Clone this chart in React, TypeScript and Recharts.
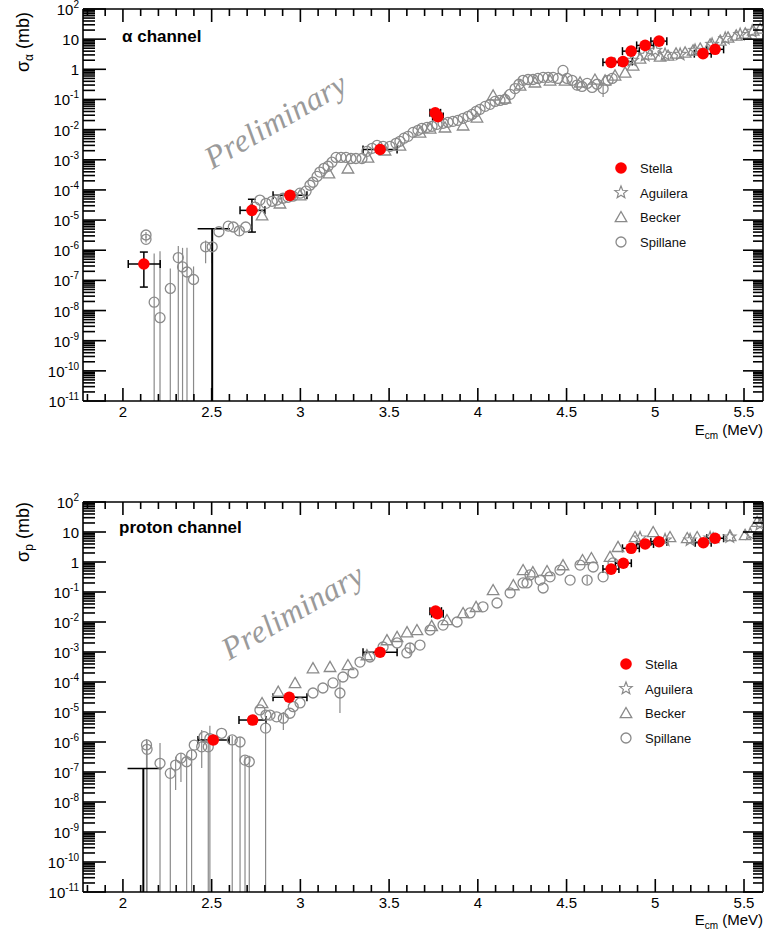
import React from 'react';
import { ScatterChart, Scatter, XAxis, YAxis, ErrorBar, Legend } from 'recharts';

const FONT = '"Liberation Sans", Arial, Helvetica, sans-serif';
const SERIF = '"Liberation Serif", "Times New Roman", serif';
const GRAY = '#8a8a8a';
const RED = '#ff0000';

// ---------- axes ----------
const xTicks = [1.8, 1.9, 2, 2.1, 2.2, 2.3, 2.4, 2.5, 2.6, 2.7, 2.8, 2.9, 3, 3.1, 3.2, 3.3, 3.4, 3.5, 3.6, 3.7, 3.8, 3.9, 4, 4.1, 4.2, 4.3, 4.4, 4.5, 4.6, 4.7, 4.8, 4.9, 5, 5.1, 5.2, 5.3, 5.4, 5.5];
const xDomain = [1.775, 5.607];
const decades = [-11, -10, -9, -8, -7, -6, -5, -4, -3, -2, -1, 0, 1];
const mantissas = [1, 2, 3, 4, 5, 6, 7, 8, 9];
const yTicks = [...decades.flatMap((d) => mantissas.map((m) => m * Math.pow(10, d))), 100];
const yDomain = [1e-11, 100];
const legendNames = ['Stella', 'Aguilera', 'Becker', 'Spillane'];

// ---------- alpha channel data ----------
// Stella: [E, sigma, E low, E high, sigma low, sigma high]
const stellaAlpha = [
  [2.118, 3.5e-7, 2.03, 2.21, 6.0e-8, 8.7e-7],
  [2.727, 2.1e-5, 2.66, 2.8, 4.0e-6, 4.9e-5],
  [2.941, 6.6e-5, 2.846, 3.037, 5.6e-5, 7.8e-5],
  [3.449, 2.2e-3, 3.353, 3.545, 1.9e-3, 2.6e-3],
  [3.76, 3.6e-2, 3.73, 3.79, 3.2e-2, 4.1e-2],
  [3.775, 2.7e-2, 3.745, 3.805, 2.4e-2, 3.0e-2],
  [4.751, 1.7, 4.705, 4.795, 1.5, 1.9],
  [4.818, 1.8, 4.77, 4.87, 1.6, 2.0],
  [4.864, 4.0, 4.815, 4.91, 3.6, 4.4],
  [4.943, 6.2, 4.895, 4.99, 5.6, 6.8],
  [5.021, 8.6, 4.975, 5.065, 7.8, 9.4],
  [5.269, 3.3, 5.22, 5.315, 3.0, 3.6],
  [5.337, 4.6, 5.29, 5.385, 4.2, 5.0],
];
const stellaAlphaLimit = [[2.503, 5.2e-6, 2.421, 2.603, 1e-11, 5.2e-6]];

// Spillane: [E, sigma, sigma low, sigma high]
const spillaneAlpha = [
  [2.13, 3.2e-6, 2.6e-6, 4.0e-6], [2.13, 2.3e-6, 1.8e-6, 2.9e-6],
  [2.176, 1.9e-8, 1e-11, 7.8e-7], [2.209, 5.8e-9, 1e-11, 9.3e-7],
  [2.267, 5.4e-8, 1e-11, 2.5e-7], [2.312, 5.7e-7, 1e-11, 1.38e-6],
  [2.336, 2.8e-7, 1e-11, 1.2e-6], [2.361, 1.9e-7, 1e-11, 1.2e-6],
  [2.398, 1.07e-7, 1e-11, 2.9e-7], [2.466, 1.3e-6, 3.7e-7, 2.1e-6],
  [2.503, 1.3e-6, 3.7e-7, 2.1e-6], [2.541, 4.1e-6], [2.594, 6.3e-6],
  [2.622, 5.9e-6], [2.656, 4.4e-6, 3.0e-6, 6.0e-6], [2.692, 5.9e-6],
  [2.744, 2.7e-5], [2.772, 4.6e-5], [2.806, 3.6e-5], [2.84, 4.2e-5],
  [2.868, 4.6e-5], [2.902, 5.3e-5], [2.93, 5.7e-5], [2.958, 6.2e-5],
  [2.998, 7.8e-5], [3.032, 9.1e-5], [3.054, 1.43e-4], [3.071, 1.8e-4],
  [3.094, 2.8e-4], [3.11, 3.9e-4], [3.133, 5.2e-4], [3.156, 6.1e-4],
  [3.178, 8.3e-4], [3.201, 1.2e-3], [3.229, 1.2e-3], [3.257, 1.2e-3],
  [3.285, 1.1e-3], [3.313, 1.1e-3], [3.347, 1.1e-3], [3.375, 1.9e-3],
  [3.404, 2.4e-3], [3.432, 3.0e-3], [3.466, 2.8e-3], [3.505, 2.8e-3],
  [3.539, 3.5e-3], [3.561, 4.1e-3], [3.584, 5.2e-3], [3.607, 6.0e-3],
  [3.635, 8.1e-3], [3.663, 9.5e-3], [3.685, 1.1e-2], [3.714, 1.19e-2],
  [3.742, 1.29e-2], [3.77, 1.5e-2], [3.804, 1.62e-2], [3.832, 1.75e-2],
  [3.86, 1.88e-2], [3.888, 2.03e-2], [3.917, 2.37e-2], [3.945, 2.76e-2],
  [3.967, 3.2e-2], [3.99, 4.0e-2], [4.012, 4.7e-2], [4.041, 5.9e-2],
  [4.069, 6.9e-2], [4.097, 8.6e-2], [4.125, 9.3e-2], [4.153, 0.1],
  [4.182, 0.148], [4.21, 0.23], [4.232, 0.32], [4.255, 0.43],
  [4.283, 0.46], [4.311, 0.46], [4.339, 0.5], [4.368, 0.54],
  [4.396, 0.54], [4.424, 0.54], [4.452, 0.5], [4.48, 0.92],
  [4.503, 0.5], [4.531, 0.43], [4.559, 0.3, 0.2, 0.4], [4.587, 0.27],
  [4.616, 0.34], [4.644, 0.25], [4.672, 0.32], [4.706, 0.23, 0.12, 0.38],
  [4.734, 0.43], [4.757, 0.5],
];

// Becker: [E, sigma]
const beckerAlpha = [
  [2.784, 1.45e-5], [2.885, 3.6e-5], [2.998, 6.7e-5], [3.161, 3.6e-4],
  [3.268, 5.2e-4], [3.381, 1.2e-3], [3.477, 2.06e-3], [3.561, 3.0e-3],
  [3.674, 8.1e-3], [3.731, 1.1e-2], [3.815, 1.19e-2], [3.917, 1.39e-2],
  [3.995, 2.55e-2], [4.086, 0.137], [4.153, 0.109], [4.238, 0.29],
  [4.322, 0.37], [4.407, 0.43], [4.492, 0.43], [4.576, 0.37],
  [4.66, 0.46], [4.717, 0.43], [4.773, 0.63], [4.83, 0.79],
  [4.875, 1.35], [4.914, 2.3], [4.97, 3.11], [5.027, 2.67],
  [5.072, 2.88], [5.117, 3.36], [5.168, 3.63], [5.213, 4.23],
  [5.253, 4.92], [5.309, 6.68], [5.366, 9.06], [5.41, 11.4],
  [5.456, 13.3], [5.507, 15.5], [5.552, 19.4], [5.591, 22.6],
];

// Aguilera: [E, sigma]
const aguileraAlpha = [
  [4.869, 1.97], [4.943, 2.88], [5.0, 4.23], [5.055, 3.11], [5.14, 3.11],
  [5.224, 4.23], [5.32, 6.68], [5.394, 10.5], [5.478, 14.2], [5.546, 18],
];

// ---------- proton channel data ----------
const stellaProton = [
  [2.509, 1.17e-6, 2.423, 2.598, 9.0e-7, 1.5e-6],
  [2.731, 5.4e-6, 2.654, 2.806, 4.0e-6, 7.0e-6],
  [2.937, 3.1e-5, 2.846, 3.037, 2.7e-5, 3.5e-5],
  [3.449, 9.8e-4, 3.353, 3.545, 8.8e-4, 1.1e-3],
  [3.762, 2.3e-2, 3.73, 3.795, 2.1e-2, 2.5e-2],
  [3.772, 1.9e-2, 3.74, 3.805, 1.7e-2, 2.1e-2],
  [4.751, 0.58, 4.705, 4.795, 0.52, 0.64],
  [4.82, 0.91, 4.775, 4.865, 0.82, 1.0],
  [4.864, 2.86, 4.815, 4.91, 2.6, 3.1],
  [4.943, 4.0, 4.895, 4.99, 3.6, 4.4],
  [5.021, 4.75, 4.975, 5.065, 4.3, 5.2],
  [5.271, 4.4, 5.225, 5.315, 4.0, 4.8],
  [5.337, 6.2, 5.29, 5.385, 5.6, 6.8],
];
const stellaProtonLimit = [[2.115, 1.3e-7, 2.026, 2.218, 1e-11, 1.3e-7]];

const spillaneProton = [
  [2.133, 8.0e-7, 1e-11, 1.26e-6], [2.136, 5.7e-7, 1e-11, 1.1e-6],
  [2.209, 1.95e-7, 1e-11, 9.3e-7], [2.267, 9.0e-8, 1e-11, 1.4e-7],
  [2.297, 1.7e-7, 2.5e-8, 3.2e-7], [2.327, 2.9e-7, 4.6e-8, 4.3e-7],
  [2.359, 2.2e-7, 1e-11, 3.5e-7], [2.387, 3.7e-7, 1e-11, 5.5e-7],
  [2.402, 7.9e-7], [2.444, 6.9e-7, 1.35e-7, 2.5e-6], [2.457, 1.5e-6],
  [2.481, 6.9e-7, 1e-11, 1.5e-6], [2.49, 1.3e-6, 1e-11, 3.5e-6],
  [2.556, 1.95e-6], [2.616, 1.17e-6, 1e-11, 1.6e-6],
  [2.66, 1.0e-6, 1e-11, 1.4e-6], [2.688, 2.5e-7, 1e-11, 3.5e-7],
  [2.712, 2.2e-7, 1e-11, 3.5e-7], [2.804, 2.9e-6, 1e-11, 4.5e-6],
  [2.772, 1.17e-5], [2.806, 7.9e-6], [2.829, 7.9e-6], [2.866, 6.9e-6],
  [2.904, 6.2e-6, 2.5e-6, 1.0e-5], [2.941, 9.1e-6], [2.96, 1.5e-5],
  [2.998, 2.0e-5], [3.071, 4.3e-5], [3.127, 6.3e-5], [3.184, 9.3e-5],
  [3.223, 4.3e-5, 9.3e-6, 1.2e-4], [3.24, 1.47e-4], [3.297, 2.0e-4],
  [3.336, 4.6e-4], [3.392, 6.8e-4], [3.466, 1.47e-3], [3.545, 2.0e-3],
  [3.6, 9.3e-4], [3.618, 1.36e-3, 8.0e-4, 2.0e-3], [3.674, 1.7e-3],
  [3.731, 5.4e-3], [3.804, 7.9e-3], [3.883, 1.0e-2], [3.956, 2.0e-2],
  [4.029, 3.2e-2], [4.108, 4.3e-2], [4.182, 9.3e-2], [4.255, 0.2],
  [4.277, 0.2], [4.294, 0.37], [4.351, 0.25], [4.368, 0.136],
  [4.407, 0.32], [4.463, 0.54], [4.52, 0.25], [4.576, 0.79],
  [4.616, 0.25, 0.18, 0.34], [4.65, 0.68], [4.706, 0.32], [4.762, 0.93],
];

const beckerProton = [
  [2.784, 2.0e-5], [2.875, 4.8e-5], [2.97, 9.3e-5], [3.071, 2.9e-4],
  [3.167, 3.2e-4], [3.268, 3.7e-4], [3.375, 7.9e-4], [3.488, 2.5e-3],
  [3.545, 3.2e-3], [3.601, 4.6e-3], [3.657, 5.4e-3], [3.74, 7.4e-3],
  [3.826, 1.17e-2], [3.917, 2.0e-2], [3.99, 3.2e-2], [4.086, 0.117],
  [4.2, 0.17], [4.255, 0.54], [4.31, 0.46], [4.39, 0.5], [4.48, 0.79],
  [4.59, 1.17], [4.64, 1.36], [4.745, 1.5], [4.79, 3.2], [4.886, 6.8],
  [4.988, 10], [5.083, 6.8], [5.18, 6.3], [5.236, 6.8], [5.326, 6.3],
  [5.422, 7.4], [5.506, 8.0], [5.574, 22],
];

const aguileraProton = [
  [4.914, 6.3], [5.055, 5.4], [5.196, 5.4], [5.309, 6.3],
  [5.42, 6.8], [5.535, 8.6], [5.59, 18],
];

// ---------- helpers ----------
type Pt = { x: number; y: number; ex: number[]; ey: number[] };
const toPts = (rows: number[][]): Pt[] =>
  rows.map((r) => {
    const lo = r[2] ?? r[1];
    const hi = r[3] ?? r[1];
    return { x: r[0], y: r[1], ex: [0, 0], ey: [r[1] - lo, hi - r[1]] };
  });
const toStella = (rows: number[][]): Pt[] =>
  rows.map((r) => ({ x: r[0], y: r[1], ex: [r[0] - r[2], r[3] - r[0]], ey: [r[1] - r[4], r[5] - r[1]] }));

const isMajorX = (v: number) => Math.abs(v * 2 - Math.round(v * 2)) < 1e-6;
const isMajorY = (v: number) => Math.abs(Math.log10(v) - Math.round(Math.log10(v))) < 1e-6;
const fmtX = (v: number) => String(Math.round(v * 10) / 10);

const starPath = (cx: number, cy: number, R: number, r: number) => {
  let d = '';
  for (let i = 0; i < 10; i++) {
    const a = -Math.PI / 2 + (i * Math.PI) / 5;
    const rad = i % 2 === 0 ? R : r;
    d += (i === 0 ? 'M' : 'L') + (cx + rad * Math.cos(a)).toFixed(2) + ',' + (cy + rad * Math.sin(a)).toFixed(2);
  }
  return d + 'Z';
};
const triPath = (cx: number, cy: number, s: number) =>
  `M${cx},${cy - s}L${cx + s * 1.05},${cy + s * 0.85}L${cx - s * 1.05},${cy + s * 0.85}Z`;

const OpenCircle = (p: any) => <circle cx={p.cx} cy={p.cy} r={5} fill="none" stroke={GRAY} strokeWidth={1.3} />;
const OpenTriangle = (p: any) => <path d={triPath(p.cx, p.cy, 5.5)} fill="none" stroke={GRAY} strokeWidth={1.3} />;
const OpenStar = (p: any) => <path d={starPath(p.cx, p.cy, 6.5, 2.8)} fill="none" stroke={GRAY} strokeWidth={1.2} />;
const RedDot = (p: any) => <circle cx={p.cx} cy={p.cy} r={5.8} fill={RED} />;
const NoMark = () => <g />;

// ---------- ticks ----------
const BottomTick = (p: any) => {
  const v = p.payload.value;
  const major = isMajorX(v);
  return (
    <g>
      <line x1={p.x} y1={p.y} x2={p.x} y2={p.y - (major ? 13 : 7)} stroke="#000" strokeWidth={1.6} />
      {major && (
        <text x={p.x} y={p.y + 16} textAnchor="middle" fontSize={15} fontFamily={FONT} fill="#000">
          {fmtX(v)}
        </text>
      )}
    </g>
  );
};
const TopTick = (p: any) => {
  const major = isMajorX(p.payload.value);
  return <line x1={p.x} y1={p.y} x2={p.x} y2={p.y + (major ? 13 : 7)} stroke="#000" strokeWidth={1.6} />;
};
const LeftTick = (p: any) => {
  const v = p.payload.value;
  const major = isMajorY(v);
  const e = Math.round(Math.log10(v));
  return (
    <g>
      <line x1={p.x} y1={p.y} x2={p.x + (major ? 23 : 12)} y2={p.y} stroke="#000" strokeWidth={1.6} />
      {major && (
        <text x={p.x - 4} y={p.y + 6} textAnchor="end" fontSize={15} fontFamily={FONT} fill="#000">
          {e === 0 ? '1' : e === 1 ? '10' : (
            <>
              <tspan>10</tspan>
              <tspan dy={-7} fontSize={10}>{String(e)}</tspan>
            </>
          )}
        </text>
      )}
    </g>
  );
};
const RightTick = (p: any) => {
  const major = isMajorY(p.payload.value);
  return <line x1={p.x} y1={p.y} x2={p.x - (major ? 20 : 10)} y2={p.y} stroke="#000" strokeWidth={1.6} />;
};

// ---------- legend ----------
const legendShapes = [
  (cx: number, cy: number) => <circle cx={cx} cy={cy} r={5.8} fill={RED} />,
  (cx: number, cy: number) => <path d={starPath(cx, cy, 6.5, 2.8)} fill="none" stroke={GRAY} strokeWidth={1.2} />,
  (cx: number, cy: number) => <path d={triPath(cx, cy, 5.5)} fill="none" stroke={GRAY} strokeWidth={1.3} />,
  (cx: number, cy: number) => <circle cx={cx} cy={cy} r={5} fill="none" stroke={GRAY} strokeWidth={1.3} />,
];
const legendRows = [12, 36.5, 61, 86];
const LegendBox = () => (
  <svg width={130} height={100} style={{ display: 'block' }}>
    {legendNames.map((name, i) => (
      <g key={name}>
        {legendShapes[i](15, legendRows[i])}
        <text x={34} y={legendRows[i] + 5} fontSize={13} fontFamily={FONT} fill="#111">{name}</text>
      </g>
    ))}
  </svg>
);

// ---------- panel ----------
type PanelProps = {
  stella: number[][];
  limit: number[][];
  spillane: number[][];
  becker: number[][];
  aguilera: number[][];
  margin: { top: number; right: number; bottom: number; left: number };
  title: string;
  titlePos: [number, number];
  ySub: string;
  yLabelPos: [number, number];
  prelimPos: [number, number];
  xLabelY: number;
  legendPos: { left: number; top: number };
};

const Panel = (props: PanelProps) => {
  const stella = toStella(props.stella);
  const limit = toStella(props.limit);
  const spillane = toPts(props.spillane);
  const becker = toPts(props.becker);
  const aguilera = toPts(props.aguilera);
  const [tx, ty] = props.titlePos;
  const [lx, ly] = props.yLabelPos;
  const [px, py] = props.prelimPos;
  const axisLine = { stroke: '#000', strokeWidth: 1.6 };
  return (
    <ScatterChart width={766} height={465} margin={props.margin}>
      <XAxis xAxisId={0} dataKey="x" type="number" domain={xDomain} allowDataOverflow ticks={xTicks} interval={0}
        height={30} tickSize={0} tickMargin={0} tickLine={false} axisLine={axisLine} tick={BottomTick} />
      <XAxis xAxisId="top" dataKey="x" orientation="top" type="number" domain={xDomain} allowDataOverflow ticks={xTicks} interval={0}
        height={1} tickSize={0} tickMargin={0} tickLine={false} axisLine={axisLine} tick={TopTick} />
      <YAxis yAxisId={0} dataKey="y" type="number" scale="log" domain={yDomain} allowDataOverflow ticks={yTicks} interval={0}
        width={83} tickSize={0} tickMargin={0} tickLine={false} axisLine={axisLine} tick={LeftTick} />
      <YAxis yAxisId="right" dataKey="y" orientation="right" type="number" scale="log" domain={yDomain} allowDataOverflow ticks={yTicks} interval={0}
        width={1} tickSize={0} tickMargin={0} tickLine={false} axisLine={axisLine} tick={RightTick} />

      {/* invisible copy bound to the mirror axes (top / right frame) */}
      <Scatter name="frame" data={stella} dataKey="y" xAxisId="top" yAxisId="right" shape={NoMark} legendType="none" isAnimationActive={false} />

      <Scatter name="Spillane" data={spillane} dataKey="y" shape={OpenCircle} isAnimationActive={false}>
        <ErrorBar dataKey="ey" direction="y" width={0} stroke={GRAY} strokeWidth={1.2} isAnimationActive={false} />
      </Scatter>
      <Scatter name="Becker" data={becker} dataKey="y" shape={OpenTriangle} isAnimationActive={false} />
      <Scatter name="Aguilera" data={aguilera} dataKey="y" shape={OpenStar} isAnimationActive={false} />
      <Scatter name="limit" data={limit} dataKey="y" shape={NoMark} isAnimationActive={false}>
        <ErrorBar dataKey="ey" direction="y" width={0} stroke="#000" strokeWidth={2} isAnimationActive={false} />
        <ErrorBar dataKey="ex" direction="x" width={0} stroke="#000" strokeWidth={1.5} isAnimationActive={false} />
      </Scatter>
      <Scatter name="Stella" data={stella} dataKey="y" shape={RedDot} isAnimationActive={false}>
        <ErrorBar dataKey="ey" direction="y" width={4} stroke="#000" strokeWidth={1.5} isAnimationActive={false} />
        <ErrorBar dataKey="ex" direction="x" width={4} stroke="#000" strokeWidth={1.5} isAnimationActive={false} />
      </Scatter>

      <Legend layout="vertical" align="center" verticalAlign="middle" content={<LegendBox />}
        wrapperStyle={{ left: props.legendPos.left, top: props.legendPos.top, width: 130, height: 100 }} />

      <text x={tx} y={ty} fontSize={17} fontWeight="bold" fontFamily={FONT} fill="#000">{props.title}</text>
      <text x={lx} y={ly} transform={`rotate(-90 ${lx} ${ly})`} textAnchor="middle" fontSize={18} fontFamily={FONT} fill="#000">
        σ<tspan dy={4} fontSize={12}>{props.ySub}</tspan><tspan dy={-4}> (mb)</tspan>
      </text>
      <text x={763} y={props.xLabelY} textAnchor="end" fontSize={15} fontFamily={FONT} fill="#000">
        E<tspan dy={4} fontSize={10}>cm</tspan><tspan dy={-4}> (MeV)</tspan>
      </text>
      <text x={px} y={py} transform={`rotate(-30 ${px} ${py})`} textAnchor="middle" fontSize={32} fontStyle="italic"
        letterSpacing={0.5} fontFamily={SERIF} fill="#9a9a9a">Preliminary</text>
    </ScatterChart>
  );
};

export default function App() {
  return (
    <div style={{ position: 'absolute', left: 0, top: 0, width: 766, height: 930, background: '#fff' }}>
      <Panel
        stella={stellaAlpha} limit={stellaAlphaLimit} spillane={spillaneAlpha} becker={beckerAlpha} aguilera={aguileraAlpha}
        margin={{ top: 8, right: 2, bottom: 34, left: 0 }}
        title="α channel" titlePos={[122, 42]} ySub="α" yLabelPos={[29, 42]}
        prelimPos={[281, 130]} xLabelY={435} legendPos={{ left: 606, top: 156 }}
      />
      <Panel
        stella={stellaProton} limit={stellaProtonLimit} spillane={spillaneProton} becker={beckerProton} aguilera={aguileraProton}
        margin={{ top: 36, right: 2, bottom: 8, left: 0 }}
        title="proton channel" titlePos={[119, 68]} ySub="p" yLabelPos={[29, 67]}
        prelimPos={[298, 156]} xLabelY={460} legendPos={{ left: 611, top: 187 }}
      />
    </div>
  );
}
